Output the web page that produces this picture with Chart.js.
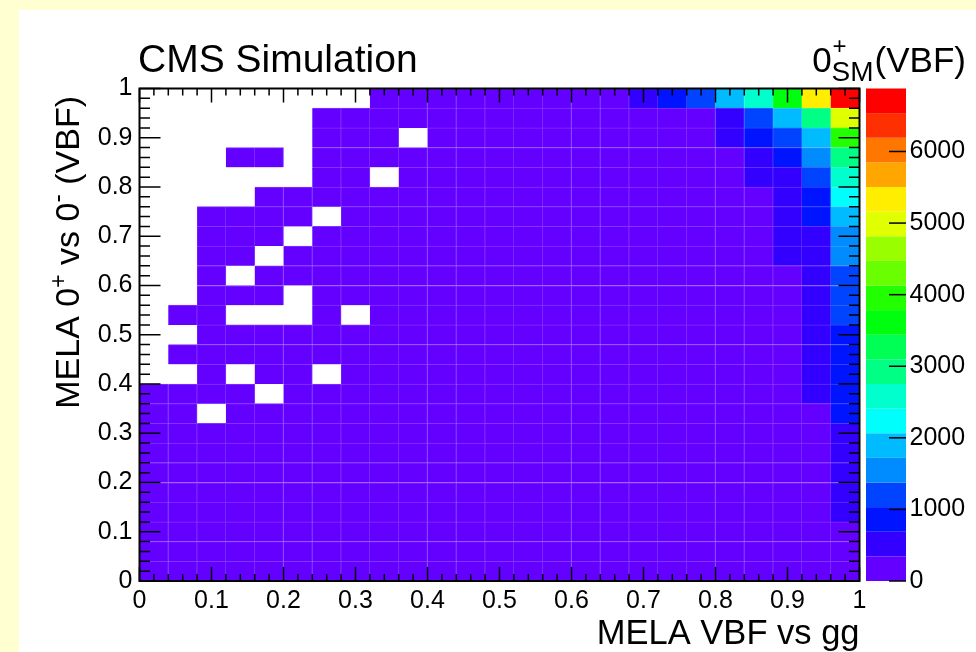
<!DOCTYPE html>
<html>
<head>
<meta charset="utf-8">
<script src="https://cdn.jsdelivr.net/npm/chart.js@4.4.0/dist/chart.umd.min.js"></script>
<style>
  html, body { margin: 0; padding: 0; }
  body { width: 976px; height: 652px; background: #ffffd2; position: relative; overflow: hidden; }
  #panel { position: absolute; left: 19px; top: 10px; right: 0; bottom: 0; background: #fff; }
  #myChart { position: absolute; left: 0; top: 0; }
</style>
</head>
<body>
<div id="panel"></div>
<canvas id="myChart" width="976" height="652"></canvas>
<script>
// histogram binning: 25 x 25 bins, lower edges
var binWidth = 0.04;
var xBins = [0, 0.04, 0.08, 0.12, 0.16, 0.2, 0.24, 0.28, 0.32, 0.36, 0.4, 0.44, 0.48,
             0.52, 0.56, 0.6, 0.64, 0.68, 0.72, 0.76, 0.8, 0.84, 0.88, 0.92, 0.96];
var yBins = xBins.slice();

// bin contents, top row (y 0.96-1) first, columns x = 0 ... 0.96
var counts = [
  [0,0,0,0,0,0,0,0,2,3,4,6,9,14,22,38,95, 510,860,1230,1880,2600,3700,5350,6880],
  [0,0,0,0,0,0,1,1,2,2,3,4,6,9,13,21,40,110,230,290, 560,1190,1910,2950,4980],
  [0,0,0,0,0,0,1,1,1,0,2,3,4,6,9,15,28,70,150,260, 480,870,1220,1890,3900],
  [0,0,0,1,1,0,1,2,2,3,3,4,5,8,12,19,33,60,120,210, 320,530,880,1580,2930],
  [0,0,0,0,0,0,1,1,0,2,3,3,5,7,10,16,27,48,95,170, 270,470,560,1250,2560],
  [0,0,0,0,1,1,2,2,3,3,4,5,6,9,13,20,30,52,90,150, 230,320,520,900,2230],
  [0,0,1,1,1,2,0,2,3,3,4,5,7,9,12,18,28,45,80,130, 200,290,480,850,1900],
  [0,0,1,1,2,0,2,3,3,4,5,6,7,10,14,19,29,44,75,120, 180,260,420,620,1600],
  [0,0,1,2,0,2,3,3,4,5,6,7,9,12,15,21,30,46,72,110, 170,250,380,600,1500],
  [0,0,2,0,2,3,3,4,5,5,6,8,9,12,16,22,31,45,68,100, 150,220,320,560,1280],
  [0,0,2,2,3,0,3,4,4,5,6,7,9,12,16,22,30,43,65,95, 140,205,300,540,1200],
  [0,2,2,0,0,0,3,0,5,6,6,8,10,13,17,23,31,44,64,92, 135,195,285,520,1100],
  [0,0,3,3,4,4,5,5,6,7,8,9,11,14,18,24,32,44,63,90, 130,185,270,500,1000],
  [0,2,3,4,4,5,5,6,7,8,9,10,12,15,19,25,33,45,62,88, 125,180,260,480,930],
  [0,0,3,0,5,5,0,6,7,8,9,10,12,15,19,25,33,44,61,86, 120,172,250,460,880],
  [3,4,5,5,0,6,7,7,8,9,10,11,13,16,20,26,34,45,60,84, 118,168,240,440,840],
  [4,4,0,6,6,7,7,8,9,10,11,12,14,17,21,27,34,45,60,82, 115,162,230,320,780],
  [5,5,6,6,7,7,8,9,9,10,11,13,15,18,22,27,34,44,58,78, 108,150,210,300,640],
  [5,6,6,7,7,8,9,9,10,11,12,13,15,18,22,28,35,44,57,76, 104,145,200,285,590],
  [6,6,7,7,8,9,9,10,11,11,12,14,16,19,23,28,35,44,56,74, 100,138,190,270,540],
  [7,7,8,8,9,9,10,11,11,12,13,15,17,20,23,29,35,44,56,72, 97,132,180,255,490],
  [8,8,9,9,10,10,11,12,12,13,14,16,18,21,24,29,36,44,55,70, 94,128,172,240,420],
  [9,10,10,11,11,12,12,13,14,15,16,17,19,22,25,30,36,44,55,69, 90,122,165,228,330],
  [12,12,13,13,14,14,15,16,16,17,18,19,21,24,27,31,37,45,55,68, 88,118,158,215,300],
  [20,18,18,19,19,20,20,21,22,23,24,25,27,29,32,36,41,48,57,70, 88,115,150,200,270]
];
var zMax = 6880;

var xTicks = [0, 0.1, 0.2, 0.3, 0.4, 0.5, 0.6, 0.7, 0.8, 0.9, 1];
var xTickLabels = ['0', '0.1', '0.2', '0.3', '0.4', '0.5', '0.6', '0.7', '0.8', '0.9', '1'];
var yTicks = xTicks;
var yTickLabels = xTickLabels;
var zTicks = [0, 1000, 2000, 3000, 4000, 5000, 6000];
var zTickLabels = ['0', '1000', '2000', '3000', '4000', '5000', '6000'];

// ROOT "pretty" palette, 20 contour levels
var palette = ['#6300ff', '#3300ff', '#0014ff', '#0044ff', '#008bff', '#00bbff', '#00fffc',
               '#00ffcc', '#00ff85', '#00ff55', '#00ff0e', '#22ff00', '#69ff00', '#99ff00',
               '#e0ff00', '#ffee00', '#ffa700', '#ff7700', '#ff3000', '#ff0000'];

var FONT = '"Liberation Sans", Arial, Helvetica, sans-serif';

function levelOf(v) {
  return Math.min(palette.length - 1, Math.floor(v / (zMax / palette.length)));
}
// slightly paler version of a colour, for the faint seams between cells
function paler(hex, f) {
  var n = parseInt(hex.slice(1), 16);
  var r = (n >> 16) & 255, g = (n >> 8) & 255, b = n & 255;
  return 'rgb(' + Math.round(r + (255 - r) * f) + ',' + Math.round(g + (255 - g) * f) + ',' + Math.round(b + (255 - b) * f) + ')';
}

// one floating-bar dataset per y bin
var datasets = yBins.map(function (y0, r) {
  var row = counts[counts.length - 1 - r];
  var pts = [], cols = [], edges = [];
  row.forEach(function (v, c) {
    if (v > 0) {
      pts.push({ x: xBins[c] + binWidth / 2, y: [y0, y0 + binWidth] });
      cols.push(palette[levelOf(v)]);
      edges.push(paler(palette[levelOf(v)], 0.2));
    }
  });
  return {
    data: pts,
    backgroundColor: cols,
    borderColor: edges,
    borderWidth: { top: 1, right: 1, bottom: 0, left: 0 },
    borderSkipped: false,
    grouped: false,
    barPercentage: 1,
    categoryPercentage: 1
  };
});

function drawPieces(ctx, pieces, x, y) {
  pieces.forEach(function (p) {
    ctx.font = p[1] + 'px ' + FONT;
    ctx.fillText(p[0], x, y + p[2]);
    x += ctx.measureText(p[0]).width;
  });
  return x;
}
function piecesWidth(ctx, pieces) {
  var w = 0;
  pieces.forEach(function (p) {
    ctx.font = p[1] + 'px ' + FONT;
    w += ctx.measureText(p[0]).width;
  });
  return w;
}

var decor = {
  id: 'decor',
  afterDatasetsDraw: function (chart) {
    var ctx = chart.ctx, a = chart.chartArea;
    var xs = chart.scales.x, ys = chart.scales.y, zs = chart.scales.zAxis;
    ctx.save();

    // colour bar
    var barL = a.right + 6.5, barR = a.right + 46.5;
    var step = zMax / palette.length;
    palette.forEach(function (col, k) {
      var yb = zs.getPixelForValue(k * step), yt = zs.getPixelForValue((k + 1) * step);
      ctx.fillStyle = col;
      ctx.fillRect(barL, yt, barR - barL, yb - yt);
    });
    ctx.strokeStyle = '#000';
    ctx.lineWidth = 1.5;
    zTicks.forEach(function (v) {
      var py = zs.getPixelForValue(v);
      ctx.beginPath(); ctx.moveTo(barR, py); ctx.lineTo(barR - 17, py); ctx.stroke();
    });

    // inward ticks on all four sides, minor every 0.02
    for (var i = 0; i <= 50; i++) {
      var v = i * 0.02, major = (i % 5 === 0);
      var px = xs.getPixelForValue(v), py = ys.getPixelForValue(v);
      var lx = major ? 14 : 7, ly = major ? 21 : 10.5;
      ctx.beginPath();
      ctx.moveTo(px, a.bottom); ctx.lineTo(px, a.bottom - lx);
      ctx.moveTo(px, a.top); ctx.lineTo(px, a.top + lx);
      ctx.moveTo(a.left, py); ctx.lineTo(a.left + ly, py);
      ctx.moveTo(a.right, py); ctx.lineTo(a.right - ly, py);
      ctx.stroke();
    }
    ctx.lineWidth = 2;
    ctx.strokeRect(a.left, a.top, a.right - a.left, a.bottom - a.top);

    // texts
    ctx.fillStyle = '#000';
    ctx.textBaseline = 'alphabetic';
    ctx.textAlign = 'left';
    ctx.font = '39px ' + FONT;
    ctx.fillText('CMS Simulation', 138, 72);

    // 0+_SM(VBF)
    ctx.font = '35px ' + FONT;
    var wVBF = ctx.measureText('(VBF)').width, w0 = ctx.measureText('0').width;
    ctx.font = '28px ' + FONT;
    var wSM = ctx.measureText('SM').width;
    var xEnd = 966, xV = xEnd - wVBF, xS = xV - wSM - 1, x0 = xS - w0;
    ctx.font = '35px ' + FONT;
    ctx.fillText('(VBF)', xV, 72);
    ctx.fillText('0', x0, 72);
    ctx.font = '28px ' + FONT;
    ctx.fillText('SM', xS, 81);
    ctx.font = '24px ' + FONT;
    ctx.fillText('+', xS + 1, 54);

    // x title
    ctx.textAlign = 'right';
    ctx.font = '34.5px ' + FONT;
    ctx.fillText('MELA VBF vs gg', a.right, 644);

    // y title, rotated, with superscripts
    var yPieces = [['MELA 0', 34, 0], ['+', 23, -13], [' vs 0', 34, 0], ['-', 25, -13], [' (VBF)', 34, 0]];
    ctx.textAlign = 'left';
    var wY = piecesWidth(ctx, yPieces);
    ctx.translate(79, 96 + wY);
    ctx.rotate(-Math.PI / 2);
    drawPieces(ctx, yPieces, 0, 0);
    ctx.restore();
  }
};

var tickFont = { family: FONT, size: 25 };

var ctx = document.getElementById('myChart').getContext('2d');
var chart = new Chart(ctx, {
  type: 'bar',
  data: { datasets: datasets },
  options: {
    responsive: false,
    animation: false,
    events: [],
    layout: { padding: { top: 88.5, left: 0, right: 0, bottom: 0 } },
    plugins: { legend: { display: false }, tooltip: { enabled: false }, title: { display: false } },
    scales: {
      x: {
        type: 'linear', min: 0, max: 1, offset: false,
        grid: { display: false, drawTicks: false },
        border: { display: false },
        afterBuildTicks: function (s) { s.ticks = xTicks.map(function (v) { return { value: v }; }); },
        afterFit: function (s) { s.height = 71; },
        ticks: {
          autoSkip: false, maxRotation: 0, padding: 5, color: '#000', font: tickFont,
          callback: function (v, i) { return xTickLabels[i]; }
        }
      },
      y: {
        type: 'linear', min: 0, max: 1,
        grid: { display: false, drawTicks: false },
        border: { display: false },
        afterBuildTicks: function (s) { s.ticks = yTicks.map(function (v) { return { value: v }; }); },
        afterFit: function (s) { s.width = 139.5; },
        ticks: {
          autoSkip: false, padding: 7, color: '#000', font: tickFont,
          callback: function (v, i) { return yTickLabels[i]; }
        }
      },
      zAxis: {
        axis: 'y', type: 'linear', position: 'right', min: 0, max: zMax,
        grid: { display: false, drawTicks: false },
        border: { display: false },
        afterBuildTicks: function (s) { s.ticks = zTicks.map(function (v) { return { value: v }; }); },
        afterFit: function (s) { s.width = 116.5; },
        ticks: {
          autoSkip: false, padding: 50, color: '#000', font: tickFont,
          callback: function (v, i) { return zTickLabels[i]; }
        }
      }
    }
  },
  plugins: [decor]
});
</script>
</body>
</html>
